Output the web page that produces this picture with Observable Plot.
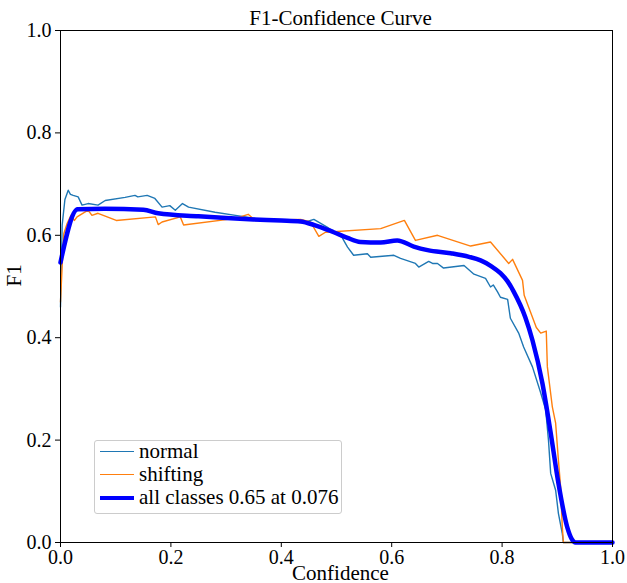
<!DOCTYPE html>
<html><head><meta charset="utf-8">
<script src="https://cdn.jsdelivr.net/npm/d3@7"></script>
<script src="https://cdn.jsdelivr.net/npm/@observablehq/plot@0.6"></script>
<style>
body{margin:0;background:#fff;}
#wrap{position:relative;width:627px;height:583px;font-family:"Liberation Serif",serif;}
#wrap svg, #wrap svg text{font-family:"Liberation Serif",serif !important;}
#legend{position:absolute;left:94px;top:440px;width:248px;height:74px;border:1px solid #cccccc;border-radius:3px;background:rgba(255,255,255,0.8);box-sizing:border-box;}
.lab{position:absolute;left:44px;font-size:21px;line-height:23px;height:23px;color:#000;white-space:nowrap;font-family:"Liberation Serif",serif;}
.sw{position:absolute;left:5px;width:34px;}
</style></head>
<body><div id="wrap"></div>
<script>
const title = "F1-Confidence Curve";
const xLabel = "Confidence";
const yLabel = "F1";
const ticks = [0, 0.2, 0.4, 0.6, 0.8, 1.0];
const seriesNames = ["normal", "shifting", "all classes 0.65 at 0.076"];
const seriesColors = ["#1f77b4", "#ff7f0e", "#0000ff"];

const normalX = [0, 0.003, 0.008, 0.014, 0.018, 0.023, 0.032, 0.039, 0.05, 0.068, 0.081, 0.117, 0.135, 0.14, 0.157, 0.171, 0.184, 0.198, 0.208, 0.221, 0.232, 0.28, 0.317, 0.353, 0.413, 0.444, 0.459, 0.483, 0.51, 0.52, 0.531, 0.556, 0.562, 0.604, 0.616, 0.643, 0.649, 0.667, 0.674, 0.683, 0.694, 0.731, 0.749, 0.770, 0.779, 0.784, 0.792, 0.797, 0.81, 0.815, 0.83, 0.839, 0.855, 0.870, 0.879, 0.884, 0.888, 0.897, 0.902, 0.909, 0.911, 1.0];
const normalY = [0.46, 0.62, 0.67, 0.688, 0.68, 0.678, 0.675, 0.659, 0.662, 0.659, 0.668, 0.674, 0.678, 0.675, 0.678, 0.672, 0.655, 0.658, 0.649, 0.662, 0.655, 0.645, 0.639, 0.633, 0.629, 0.626, 0.631, 0.616, 0.596, 0.577, 0.561, 0.564, 0.557, 0.561, 0.555, 0.545, 0.538, 0.549, 0.545, 0.545, 0.536, 0.541, 0.524, 0.516, 0.499, 0.503, 0.489, 0.479, 0.475, 0.438, 0.409, 0.382, 0.343, 0.292, 0.259, 0.2, 0.135, 0.102, 0.057, 0.018, 0, 0];

const shiftX = [0, 0.003, 0.006, 0.012, 0.019, 0.025, 0.03, 0.05, 0.057, 0.068, 0.101, 0.172, 0.177, 0.184, 0.217, 0.223, 0.317, 0.34, 0.353, 0.435, 0.453, 0.468, 0.48, 0.58, 0.623, 0.643, 0.683, 0.743, 0.779, 0.812, 0.819, 0.837, 0.84, 0.848, 0.862, 0.87, 0.88, 0.882, 0.891, 0.897, 0.902, 0.906, 0.909, 0.911, 1.0];
const shiftY = [0.47, 0.54, 0.603, 0.623, 0.639, 0.629, 0.636, 0.649, 0.639, 0.643, 0.629, 0.636, 0.621, 0.626, 0.636, 0.62, 0.633, 0.641, 0.629, 0.631, 0.626, 0.598, 0.606, 0.613, 0.629, 0.590, 0.600, 0.579, 0.587, 0.545, 0.553, 0.512, 0.483, 0.46, 0.42, 0.409, 0.413, 0.343, 0.265, 0.233, 0.161, 0.109, 0.031, 0, 0];

const allX = [0, 0.031, 0.08, 0.15, 0.177, 0.25, 0.35, 0.4, 0.435, 0.46, 0.495, 0.52, 0.543, 0.58, 0.61, 0.64, 0.665, 0.707, 0.74, 0.761, 0.78, 0.797, 0.81, 0.821, 0.842, 0.855, 0.873, 0.888, 0.902, 0.918, 0.926, 0.933, 1.0];
const allY = [0.547, 0.651, 0.652, 0.65, 0.643, 0.637, 0.631, 0.629, 0.627, 0.62, 0.606, 0.595, 0.587, 0.586, 0.590, 0.578, 0.571, 0.565, 0.558, 0.551, 0.54, 0.526, 0.51, 0.49, 0.44, 0.395, 0.311, 0.214, 0.116, 0.03, 0.007, 0, 0];

const toRows = (xs, ys) => xs.map((x, i) => ({x, y: ys[i]}));
const normal = toRows(normalX, normalY);
const shifting = toRows(shiftX, shiftY);
const all = toRows(allX, allY);
const fmt = d3.format(".1f");

const chart = Plot.plot({
  width: 627, height: 583,
  marginLeft: 60, marginRight: 15, marginTop: 30, marginBottom: 41,
  style: {fontFamily: "Liberation Serif, serif", fontSize: "20px", color: "#000", background: "#fff", overflow: "visible"},
  x: {domain: [0, 1], ticks, tickFormat: fmt, label: null},
  y: {domain: [0, 1], ticks, tickFormat: fmt, label: null},
  marks: [
    Plot.line(normal, {x: "x", y: "y", stroke: seriesColors[0], strokeWidth: 1.4}),
    Plot.line(shifting, {x: "x", y: "y", stroke: seriesColors[1], strokeWidth: 1.4}),
    Plot.line(all, {x: "x", y: "y", stroke: seriesColors[2], strokeWidth: 4.5, curve: "monotone-x"}),
    Plot.frame({stroke: "#000", strokeWidth: 1}),
    Plot.axisX({ticks, tickFormat: fmt, tickSize: 5, tickPadding: 2, fontSize: 20}),
    Plot.axisY({ticks, tickFormat: fmt, tickSize: 5, tickPadding: 4, fontSize: 20}),
    Plot.text([xLabel], {frameAnchor: "bottom", dx: 4, dy: 31, text: d => d, fontSize: 21, lineAnchor: "middle"}),
    Plot.text([yLabel], {frameAnchor: "left", dx: -46, text: d => d, fontSize: 21, rotate: -90, lineAnchor: "middle"}),
    Plot.text([title], {frameAnchor: "top", dx: 4, dy: -6, text: d => d, fontSize: 21, lineAnchor: "bottom"})
  ]
});
const wrap = document.getElementById("wrap");
wrap.appendChild(chart);

const legend = document.createElement("div");
legend.id = "legend";
const widths = [1.4, 1.4, 4.5];
seriesNames.forEach((name, i) => {
  const sw = document.createElement("div");
  sw.className = "sw";
  sw.style.borderTop = widths[i] + "px solid " + seriesColors[i];
  sw.style.top = (11 + i * 23 - widths[i] / 2) + "px";
  legend.appendChild(sw);
  const lab = document.createElement("div");
  lab.className = "lab";
  lab.style.top = (-1 + i * 23) + "px";
  lab.textContent = name;
  legend.appendChild(lab);
});
wrap.appendChild(legend);
</script></body></html>
